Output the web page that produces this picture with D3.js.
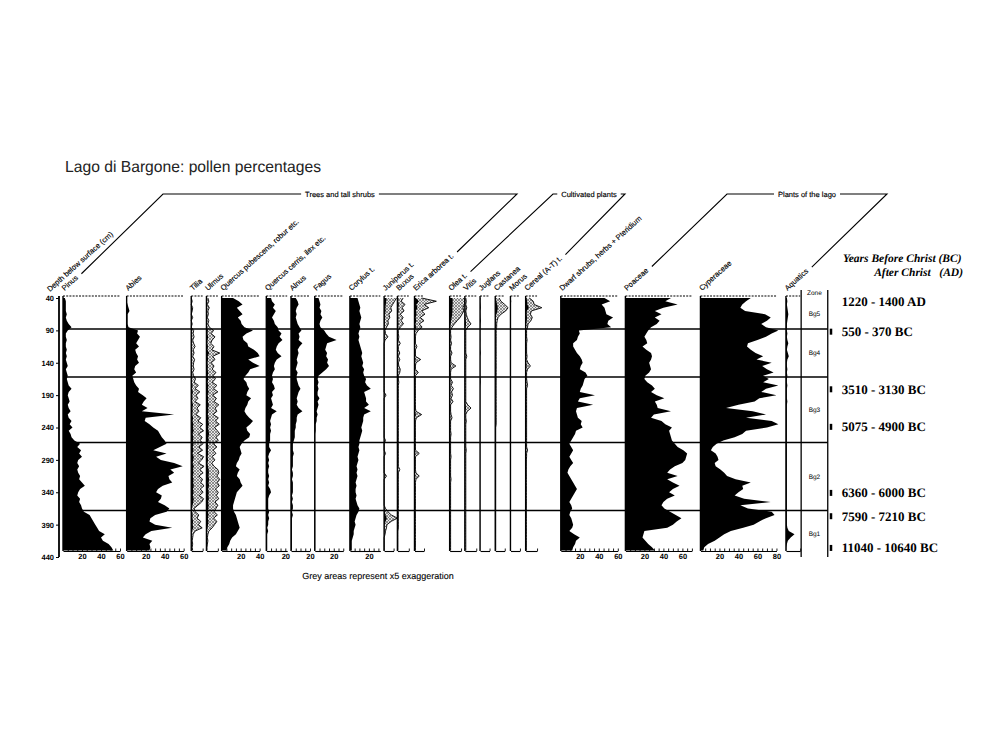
<!DOCTYPE html>
<html>
<head>
<meta charset="utf-8">
<script src="https://cdn.jsdelivr.net/npm/d3@7"></script>
<style>
  body { margin: 0; background: #fff; }
  svg { display: block; }
  text { fill: #000; text-rendering: geometricPrecision; }
</style>
</head>
<body>
<svg id="chart" width="995" height="746"></svg>
<script>
// depth samples (cm below surface)
const depths = [40,45,50,55,60,65,70,75,80,85,
  90,95,100,105,110,115,120,125,130,135,
  140,145,150,155,160,165,170,175,180,185,
  190,195,200,205,210,215,220,225,230,235,
  240,245,250,255,260,265,270,275,280,285,
  290,295,300,305,310,315,320,325,330,335,
  340,345,350,355,360,365,370,375,380,385,
  390,395,400,405,410,415,420,425,430];

// pollen percentages, one value per depth
const pinus = [2,3,3,3,3,4,3,4,6,9, 5,3,3,4,3,3,4,3,4,3, 4,5,3,4,5,4,5,6,9,6,
  5,6,7,5,6,8,5,6,9,7, 10,6,8,9,12,18,15,19,17,20, 16,15,17,15,16,18,17,20,23,18,
  16,15,18,17,19,20,22,28,30,32, 34,36,38,44,40,42,48,51,53];
const abies = [0,0,1,2,3,1,1,1,1,2, 12,11,14,12,10,13,9,10,12,11, 13,9,8,10,6,7,8,10,13,12,
  17,21,18,16,22,16,50,20,19,24, 28,33,35,37,40,42,35,28,42,31, 36,50,59,46,50,44,45,48,38,33,
  31,37,36,33,40,45,42,30,25,24, 30,48,26,20,17,27,24,25,24];
const tilia = [0,0.2,0,0.3,0.2,0,0.3,0,0.2,0, 0.5,0.4,0.6,0.3,0.5,0.8,0.4,0.6,0.3,0.7,
  0.5,0.4,0.6,0.3,0.5,0.9,0.6,1.5,0.8,1.8, 1.0,1.4,0.8,1.9,1.2,1.6,1.0,2.0,1.4,2.4,
  1.8,2.6,1.5,2.3,1.9,2.5,1.6,2.4,1.3,2.6, 2.2,1.5,2.7,1.8,2.5,1.6,2.4,2.0,2.7,1.9,
  2.5,1.7,2.6,2.2,1.4,0.6,0.8,1.6,1.2,2.0, 1.5,2.3,0.8,0.4,0.3,0.2,0.3,0.2,0.3];
const ulmus = [0.3,0.5,0.2,0.6,0.3,0.4,0.2,0.5,0.3,0.6, 1.5,1.0,1.8,1.2,0.9,1.6,1.1,2.8,1.3,1.8,
  1.0,1.6,1.2,2.0,1.4,1.9,1.2,2.2,1.5,2.4, 1.3,2.1,1.6,2.6,1.8,2.2,1.4,2.5,1.9,2.7,
  1.7,2.3,2.8,2.0,2.5,1.5,2.2,1.4,2.0,1.2, 1.8,1.1,1.6,2.4,2.6,2.2,2.8,2.3,2.7,1.9,
  2.5,2.1,2.6,1.8,2.4,2.0,1.6,2.3,1.5,2.2, 1.7,1.2,0.5,0.3,0.2,0.3,0.2,0.1,0.1];
const quercusPub = [12,18,22,16,19,22,17,20,21,24, 33,26,22,23,27,28,34,38,40,28,
  33,40,30,28,25,23,26,27,29,27, 26,31,28,27,25,24,26,29,33,30,
  26,27,30,29,24,21,19,20,21,19, 18,16,15,19,17,16,19,20,22,19,
  16,15,14,13,12,12,13,15,16,17, 18,19,17,15,11,9,8,6,5];
const quercusCer = [5,6,9,7,10,8,6,8,9,12, 13,16,14,17,13,11,10,12,16,11, 9,8,9,7,6,7,6,8,9,6,
  7,5,6,7,5,11,6,5,4,5, 4,5,4,4,4,3,3,5,3,2, 3,2,3,2,2,3,2,3,2,4,
  5,3,2,2,2,2,3,2,3,2, 2,1,2,1,1,1,1,1,1];
const alnus = [5,7,8,6,5,6,5,6,7,9, 11,8,9,8,12,9,7,8,7,6, 7,6,5,7,6,6,7,8,10,8,
  7,6,7,6,8,12,7,6,6,5, 5,4,4,4,3,2,2,2,3,2, 2,2,2,1,2,2,1,2,2,2,
  2,1,2,1,2,2,1,2,1,1, 1,1,1,1,1,1,1,1,1];
const fagus = [4,5,6,5,7,6,8,6,5,6, 10,12,15,23,13,12,11,13,12,14, 13,15,12,8,4,3,4,3,4,3,
  3,5,3,4,3,2,3,2,2,1, 1,1,0.5,0.5,0.5,0.5,0.5,0.5,0.5,0.5, 0.5,0.5,0.5,0.5,0.5,0.5,0.5,0.5,0.5,0.5,
  0.5,0.5,0.5,0.5,0.5,0.5,0.5,0.5,0.5,0.5, 0.5,0.5,0.5,0.5,0.5,0.5,0.5,0.5,0.5];
const corylus = [8,9,10,11,10,11,12,11,10,11, 10,9,10,9,10,11,12,13,12,13, 14,13,15,14,15,17,16,18,22,15,
  16,17,17,20,15,22,15,14,14,13, 12,13,12,11,10,10,9,10,9,8, 9,8,7,8,7,8,7,6,7,6,
  6,7,6,7,8,10,9,7,6,5, 6,5,4,4,3,2,2,2,2];
const juniperus = [2.6,2.2,1.8,1.4,1.6,1.0,1.2,0.8,0.9,0.5, 0.2,0.3,0.8,0.2,0,0,0,0,0,0,
  0,0,0,0,0,0,0,0,0,0, 0.4,0,0,0,0,0,0,0,0,0, 0,0,0,0,0.3,0,0,0,0.3,0,
  0,0,0,0,0,0.5,0,0,0,0, 0,0,0,0,0,0.3,0.8,1.5,2.8,1.5, 0.6,0.5,0.3,0.2,0,0,0,0,0];
const buxus = [1.2,0.8,1.6,1.0,1.4,0.6,1.2,0.8,1.3,0.6, 0.2,0.2,0.3,0.2,0.6,0.2,0.2,0.5,0.2,0.5,
  0.2,0.3,0.6,0.5,0.2,0.2,0.3,0.2,0.2,0.2, 0.2,0.2,0.2,0.2,0.2,0.2,0.2,0.2,0.2,0.2,
  0.2,0.2,0.2,0.2,0.2,0.2,0.2,0.2,0.2,0.2, 0.2,0.2,0.2,0.5,0.2,0.2,0.2,0.2,0.2,0.2,
  0.2,0.2,0.2,0.2,0.2,0.2,0.2,0.2,0.2,0.2, 0.2,0.2,0.1,0.1,0.1,0.1,0.1,0.1,0.1];
const erica = [1.5,4.6,2.0,3.0,1.5,2.2,1.2,2.0,1.0,1.6, 0.8,0.3,0.2,0.2,0.2,0.5,0.2,0.2,0.2,1.3,
  0.3,0.2,0.2,0.8,0.2,0.2,0.2,0.2,0.2,0.2, 0.2,0.2,0.2,0.2,0.2,0.3,1.5,0.4,0.2,0.2,
  0.2,0.2,0.2,0.2,0.2,0.2,0.2,0.2,1.0,0.2, 0.2,0.2,0.2,0.2,0.3,1.0,0.3,0.2,0.2,0.2,
  0.2,0.2,0.2,0.2,0.2,0.2,0.2,0.2,0.2,0.2, 0.2,0.2,0.2,0.2,0.2,0.2,0.2,0.2,0.2];
const olea = [3.0,3.2,3.1,2.8,3.0,2.6,2.2,1.6,1.0,0.5, 0.2,0.2,0.3,0.2,0.4,0.2,0.2,0.5,0.2,0.2,
  0.3,1.3,0.3,0.2,0.2,0.2,0.6,0.3,0.8,0.4, 0.6,0.3,0.7,0.2,0.2,0.2,0.3,0.5,0.2,0.2,
  0.2,0.2,0.3,0.2,0.2,0.2,0.2,0.2,0.2,0.3, 0.2,0.2,0.2,0.2,0.2,0.2,0.3,0.2,0.2,0.2,
  0.2,0.2,0.2,0.2,0.2,0.2,0.2,0.2,0.2,0.2, 0.2,0.2,0.2,0.2,0.2,0.2,0.2,0.2,0.2];
const vitis = [0.2,0.3,0.2,0.4,0.2,0.3,0.5,0.8,1.3,0.6, 0.2,0.2,0.2,0.2,0.2,0.2,0.2,0.2,0.4,0.2,
  0.2,0.2,0.2,0.2,0.2,0.2,0.2,0.2,0.2,0.2, 0.2,0.2,0.2,0.6,1.3,0.5,0.2,0.2,0.3,0.2,
  0.2,0.2,0.2,0.2,0.2,0.2,0.2,0.3,0.2,0.2, 0.2,0.2,0.2,0.2,0.2,0.2,0.2,0.2,0.2,0.2,
  0.2,0.2,0.2,0.2,0.2,0.2,0.2,0.2,0.2,0.2, 0.2,0.2,0.2,0.2,0.2,0.2,0.2,0.2,0.2];
const juglans = [0.5,0.3,0.6,0.8,0.3,0.4,0.5,0.9,0.4,0.3, 0.2,0.2,0.2,0.3,0.2,0.2,0.3,0.8,0.2,0.2,
  0.2,0.2,0.2,0.2,0.2,0.5,0.7,0.3,0.2,0.2, 0.2,0.2,0.2,0.2,0.2,0.2,0.2,0.2,0.2,0.2,
  0.2,0.2,0.2,0.2,0.2,0.2,0.2,0.2,0.2,0.2, 0.2,0.2,0.2,0.2,0.2,0.2,0.2,0.2,0.2,0.2,
  0.2,0.2,0.2,0.2,0.2,0.2,0.2,0.2,0.2,0.2, 0.2,0.2,0.2,0.2,0.2,0.2,0.2,0.2,0.2];
const castanea = [0.8,1.2,2.0,2.7,2.2,1.2,0.6,0.4,0.3,0.3, 0.2,0.2,0.2,0.2,0.2,0.2,0.2,0.2,0.2,0.2,
  0.2,0.2,0.2,0.2,0.2,0.2,0.2,0.2,0.2,0.2, 0.2,0.2,0.2,0.2,0.2,0.2,0.2,0.2,0.2,0.2,
  0.1,0.1,0.1,0.1,0.1,0.1,0.1,0.1,0.1,0.1, 0.1,0.1,0.1,0.1,0.1,0.1,0.1,0.1,0.1,0.1,
  0.1,0.1,0.1,0.1,0.1,0.1,0.1,0.1,0.1,0.1, 0.1,0.1,0.1,0.1,0.1,0.1,0.1,0.1,0.1];
const morus = [0.3,0.8,0.4,0.3,0.2,0.3,0.2,0.2,0.2,0.2, 0.1,0.1,0.1,0.1,0.1,0.1,0.1,0.1,0.1,0.1,
  0.1,0.1,0.1,0.1,0.1,0.1,0.1,0.1,0.1,0.1, 0.1,0.1,0.1,0.1,0.1,0.1,0.1,0.1,0.1,0.1,
  0.1,0.1,0.1,0.1,0.1,0.1,0.1,0.1,0.1,0.1, 0.1,0.1,0.1,0.1,0.1,0.1,0.1,0.1,0.1,0.1,
  0.1,0.1,0.1,0.1,0.1,0.1,0.1,0.1,0.1,0.1, 0.1,0.1,0.1,0.1,0.1,0.1,0.1,0.1,0.1];
const cereal = [0.8,1.6,1.8,3.4,1.2,1.0,1.4,1.1,0.5,0.4, 0.2,0.2,0.2,0.3,0.2,0.2,0.2,0.2,0.3,0.2,
  0.5,1.0,0.4,0.2,0.2,0.2,0.3,0.4,0.2,0.2, 0.2,0.2,0.2,0.2,0.2,0.2,0.2,0.2,0.2,0.2,
  0.2,0.2,0.2,0.2,0.2,0.2,0.2,0.4,0.2,0.2, 0.15,0.15,0.15,0.15,0.15,0.15,0.15,0.15,0.15,0.15,
  0.15,0.15,0.15,0.15,0.15,0.15,0.15,0.15,0.15,0.15, 0.15,0.15,0.15,0.15,0.15,0.15,0.15,0.15,0.15];
const dwarfShrubs = [46,52,43,46,47,48,55,50,49,53, 19,20,18,17,13,13,15,17,20,22,
  23,21,20,26,28,25,24,23,21,20, 36,20,18,34,17,16,17,18,22,21,
  23,16,15,13,11,9,11,13,11,9, 11,13,10,8,7,9,11,13,15,17,
  15,13,11,9,11,12,10,9,11,12, 13,12,9,14,20,16,15,13,12];
const poaceae = [48,42,55,40,31,38,31,36,33,27, 24,22,20,22,23,18,22,27,28,27,
  25,26,27,25,21,20,23,28,31,27, 33,41,31,33,34,48,30,27,38,42,
  49,46,47,48,49,52,55,61,65,64, 63,60,52,47,44,55,44,50,57,50,
  46,52,44,40,38,41,47,53,59,54, 50,44,20,19,18,21,24,28,31];
const cyperaceae = [53,48,44,42,47,68,74,70,64,69, 82,75,69,60,50,49,53,58,66,59,
  75,65,70,77,66,72,66,82,69,64, 80,62,57,40,27,55,69,48,75,82,
  70,48,44,36,24,17,13,11,16,18, 19,15,16,21,25,28,37,53,44,45,
  40,36,46,74,42,50,75,78,69,62, 56,45,32,25,20,15,8,4,3];
const aquatics = [1,1.5,1,1.5,2,2.5,2,1.5,1,1, 1,1.5,1,1.5,2.5,1.5,1,2,3,1.5,
  1,1,1.5,1,1.5,1,1,1.5,1,1, 1,1,1.5,1,1,1,1,1,1,1,
  1,1,1,1,1,1,1,1,1,1, 1,1,1,1,1,1,1,1,1,1,
  1,1,1,1,1,1,1,1,1,1, 1,1.5,3,9,5,2,1,0.5,0.5];

const taxa = ["Pinus", "Abies", "Tilia", "Ulmus", "Quercus pubescens, robur etc.",
  "Quercus cerris, ilex etc.", "Alnus", "Fagus", "Corylus t.", "Juniperus t.", "Buxus",
  "Erica arborea t.", "Olea t.", "Vitis", "Juglans", "Castanea", "Morus", "Cereal (A-T) t.",
  "Dwarf shrubs, herbs + Pteridium", "Poaceae", "Cyperaceae", "Aquatics"];
const series = [pinus, abies, tilia, ulmus, quercusPub, quercusCer, alnus, fagus, corylus,
  juniperus, buxus, erica, olea, vitis, juglans, castanea, morus, cereal,
  dwarfShrubs, poaceae, cyperaceae, aquatics];
const taxonMax = [60, 60, 12, 12, 40, 22, 20, 30, 32, 10, 12, 10, 12, 12, 10, 10, 10, 12, 60, 70, 80, 15];
const tickLabels = [[20, 40, 60], [20, 40, 60], [], [], [20, 40], [20], [20], [20], [20],
  [], [], [], [], [], [], [], [], [], [20, 40, 60], [20, 40, 60], [20, 40, 60, 80], []];
const exaggerated = ["Tilia", "Ulmus", "Juniperus t.", "Buxus", "Erica arborea t.", "Olea t.",
  "Vitis", "Castanea", "Cereal (A-T) t."];
const exaggeration = 5;

const groups = [
  { label: "Trees and tall shrubs", from: "Pinus", to: "Erica arborea t." },
  { label: "Cultivated plants", from: "Olea t.", to: "Cereal (A-T) t." },
  { label: "Plants of the lago", from: "Poaceae", to: "Aquatics" }
];

const depthTicks = [40, 90, 140, 190, 240, 290, 340, 390, 440];
const zoneBounds = [88, 162, 263, 368];
const zoneNames = ["Bg5", "Bg4", "Bg3", "Bg2", "Bg1"];
const dateLabels = ["1220 - 1400 AD", "550 - 370 BC", "3510 - 3130 BC", "5075 - 4900 BC",
  "6360 - 6000 BC", "7590 - 7210 BC", "11040 - 10640 BC"];
const dateDepths = [45, 92, 181, 239, 341, 377, 426];
const dateMarked = [false, true, true, true, true, true, true];

// ---- layout ----
const pxPerPct = 0.95;
const colGaps = [0, 7, 8, 4, 4, 7, 4, 5, 7, 4, 4, 6, 27, 4, 4, 6, 6, 6, 25, 8, 9, 10]; // in % units
const zoneCol = { u0: 777, w: 28 };
const bracketCorners = [[163, 517], [553, 625], [727, 887]];
const bracketY = 194;
const labelAngle = 42;
const topY = 296, bottomY = 551;
const sans = "'Liberation Sans', Arial, sans-serif";
const serif = "'Liberation Serif', 'Times New Roman', serif";

const svg = d3.select("#chart");
const xU = d3.scaleLinear().domain([0, 805]).range([63, 63 + 805 * pxPerPct]);
const y = d3.scaleLinear().domain([40, 440]).range([298, 557]);

// stipple pattern for the x5 exaggeration
const defs = svg.append("defs");
const pat = defs.append("pattern")
  .attr("id", "stipple")
  .attr("patternUnits", "userSpaceOnUse")
  .attr("width", 3).attr("height", 3);
pat.append("rect").attr("width", 3).attr("height", 3).attr("fill", "#e6e6e6");
pat.append("path").attr("d", "M0,0L3,3M3,0L0,3").attr("stroke", "#555").attr("stroke-width", 0.6);

// title
svg.append("text")
  .attr("x", 65).attr("y", 172)
  .attr("textLength", 256).attr("lengthAdjust", "spacingAndGlyphs")
  .style("font-family", sans).style("font-size", "16px").style("fill", "#222")
  .text("Lago di Bargone: pollen percentages");

// columns
let u = 0;
const cols = taxa.map((name, i) => {
  u += colGaps[i];
  const c = { name, i, u0: u, max: taxonMax[i] };
  u += taxonMax[i];
  c.sx = d3.scaleLinear().domain([0, c.max]).range([xU(c.u0), xU(c.u0 + c.max)]);
  return c;
});

const plot = svg.append("g").attr("class", "columns");

cols.forEach(c => {
  const g = plot.append("g").attr("class", "col");
  const pts = depths.map((d, j) => ({ d, v: series[c.i][j] }));
  const x0 = c.sx(0);

  if (exaggerated.includes(c.name)) {
    const ex = d3.area().y(p => y(p.d)).x0(x0).x1(p => c.sx(p.v * exaggeration));
    g.append("path").attr("d", ex(pts)).attr("fill", "url(#stipple)");
    const exLine = d3.line().y(p => y(p.d)).x(p => c.sx(p.v * exaggeration));
    g.append("path").attr("d", exLine(pts))
      .attr("fill", "none").attr("stroke", "#000").attr("stroke-width", 0.9);
  }

  const area = d3.area().y(p => y(p.d)).x0(x0).x1(p => c.sx(p.v));
  g.append("path").attr("d", area(pts)).attr("fill", "#000");

  // baseline
  g.append("line")
    .attr("x1", x0).attr("x2", x0).attr("y1", topY).attr("y2", bottomY)
    .attr("stroke", "#000").attr("stroke-width", 1.4);

  // dashed top line
  g.append("line")
    .attr("x1", x0).attr("x2", c.sx(c.max)).attr("y1", topY).attr("y2", topY)
    .attr("stroke", "#000").attr("stroke-width", 1.1).attr("stroke-dasharray", "2,1.2");

  // bottom scale
  const major = tickLabels[c.i].length > 0;
  const ax = d3.axisBottom(c.sx)
    .tickValues(major ? d3.range(5, c.max + 0.01, 5) : [c.max])
    .tickSize(-2.5).tickSizeOuter(0).tickPadding(3)
    .tickFormat(v => tickLabels[c.i].includes(v) ? v : "");
  const axG = g.append("g").attr("transform", `translate(0,${bottomY})`).call(ax);
  axG.select(".domain").attr("stroke-width", 1.1);
  axG.selectAll(".tick line").attr("stroke-width", 0.9);
  axG.selectAll("text")
    .style("font-family", sans).style("font-size", "7.5px").style("font-weight", "bold");

  // rotated taxon name
  c.label = g.append("text")
    .attr("transform", `translate(${x0 + 1.5},${topY - 5}) rotate(${-labelAngle})`)
    .style("font-family", sans).style("font-size", "7.5px")
    .style("stroke", "#000").style("stroke-width", 0.15)
    .text(c.name);
});

// depth axis
const depthG = svg.append("g").attr("transform", `translate(59,0)`)
  .call(d3.axisLeft(y).tickValues(depthTicks).tickSize(3).tickSizeOuter(0).tickPadding(2));
depthG.select(".domain").attr("stroke-width", 1.8).attr("d", `M0,${topY}V${y(440)}`);
depthG.selectAll("text")
  .style("font-family", sans).style("font-size", "7.5px").style("font-weight", "bold");
svg.append("text")
  .attr("transform", `translate(50,${topY - 4}) rotate(${-labelAngle})`)
  .style("font-family", sans).style("font-size", "7.5px")
  .style("stroke", "#000").style("stroke-width", 0.15)
  .text("Depth below surface (cm)");

// zone column and boundaries
const zx0 = xU(zoneCol.u0), zx1 = xU(zoneCol.u0 + zoneCol.w);
[zx0, zx1].forEach(xx => svg.append("line")
  .attr("x1", xx).attr("x2", xx).attr("y1", topY - 6).attr("y2", y(440))
  .attr("stroke", "#000").attr("stroke-width", 1.3));
svg.append("text")
  .attr("x", (zx0 + zx1) / 2).attr("y", topY - 1).attr("text-anchor", "middle")
  .style("font-family", sans).style("font-size", "6.5px").text("Zone");

svg.append("g").selectAll("line").data(zoneBounds).join("line")
  .attr("x1", xU(0)).attr("x2", zx1)
  .attr("y1", d => y(d)).attr("y2", d => y(d))
  .attr("stroke", "#000").attr("stroke-width", 1.5);

const zoneEdges = [40, ...zoneBounds, 440];
svg.append("g").selectAll("text").data(zoneNames).join("text")
  .attr("x", (zx0 + zx1) / 2)
  .attr("y", (d, i) => y((zoneEdges[i] + zoneEdges[i + 1]) / 2))
  .attr("dy", "0.35em").attr("text-anchor", "middle")
  .style("font-family", sans).style("font-size", "6.5px")
  .text(d => d);

// dates
const dateG = svg.append("g");
dateG.selectAll("rect").data(dateDepths.filter((d, i) => dateMarked[i])).join("rect")
  .attr("x", zx1 + 2).attr("y", d => y(d) - 3).attr("width", 2.5).attr("height", 6)
  .attr("fill", "#000");
dateG.selectAll("text").data(dateLabels).join("text")
  .attr("x", zx1 + 14).attr("y", (d, i) => y(dateDepths[i])).attr("dy", "0.35em")
  .style("font-family", serif).style("font-size", "13px").style("font-weight", "bold")
  .text(d => d);

svg.append("text")
  .attr("x", 843).attr("y", 262)
  .style("font-family", serif).style("font-size", "11.5px")
  .style("font-weight", "bold").style("font-style", "italic")
  .text("Years Before Christ (BC)");
svg.append("text")
  .attr("x", 963).attr("y", 276).attr("text-anchor", "end")
  .style("font-family", serif).style("font-size", "11.5px")
  .style("font-weight", "bold").style("font-style", "italic").style("white-space", "pre")
  .text("After Christ   (AD)");

// group brackets
const rad = labelAngle * Math.PI / 180;
function labelEnd(name) {
  const c = cols.find(cc => cc.name === name);
  const len = c.label.node().getComputedTextLength() + 4;
  return [c.sx(0) + 1.5 + len * Math.cos(rad), topY - 5 - len * Math.sin(rad) - 2];
}
groups.forEach((grp, gi) => {
  const [a, b] = [labelEnd(grp.from), labelEnd(grp.to)];
  const [cx0, cx1] = bracketCorners[gi];
  const mid = (cx0 + cx1) / 2;
  const t = svg.append("text")
    .attr("x", mid).attr("y", bracketY).attr("dy", "0.35em").attr("text-anchor", "middle")
    .style("font-family", sans).style("font-size", "7.5px")
    .style("stroke", "#000").style("stroke-width", 0.15)
    .text(grp.label);
  const half = t.node().getComputedTextLength() / 2 + 4;
  const path = d3.path();
  path.moveTo(a[0], a[1]);
  path.lineTo(cx0, bracketY);
  path.lineTo(mid - half, bracketY);
  path.moveTo(mid + half, bracketY);
  path.lineTo(cx1, bracketY);
  path.lineTo(b[0], b[1]);
  svg.append("path").attr("d", path.toString())
    .attr("fill", "none").attr("stroke", "#000").attr("stroke-width", 1.1);
});

// footnote
svg.append("text")
  .attr("x", 378).attr("y", 579).attr("text-anchor", "middle")
  .style("font-family", sans).style("font-size", "9px")
  .style("stroke", "#000").style("stroke-width", 0.1)
  .text("Grey areas represent x5 exaggeration");
</script>
</body>
</html>
